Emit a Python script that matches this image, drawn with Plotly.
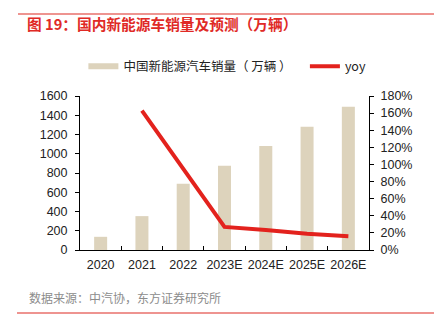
import plotly.graph_objects as go

categories = ["2020", "2021", "2022", "2023E", "2024E", "2025E", "2026E"]
sales = [137, 352, 689, 875, 1080, 1280, 1488]
yoy = [None, 1.63, 0.96, 0.27, 0.235, 0.19, 0.16]

bar_name = "中国新能源汽车销量（ 万辆 ）\u00a0\u00a0\u00a0"
line_name = "yoy"
title_text = "图 19：国内新能源车销量及预测（万辆）"
source_text = "数据来源：中汽协，东方证券研究所"

BEIGE = "#DDD3BC"
RED = "#E3221D"
FONT = "Liberation Sans, Arial, Noto Sans CJK SC"

fig = go.Figure()
fig.add_trace(go.Bar(x=categories, y=sales, name=bar_name, marker_color=BEIGE,
                     marker_line_width=0, showlegend=False, yaxis="y"))
# legend proxy for the bar series (flat wide swatch like the reference)
fig.add_trace(go.Scatter(x=[categories[0]], y=[None], mode="lines", name=bar_name,
                         line=dict(color=BEIGE, width=6), yaxis="y"))
fig.add_trace(go.Scatter(x=categories, y=yoy, mode="lines", name=line_name,
                         line=dict(color=RED, width=4), yaxis="y2"))

L, R, T, B = 80, 65, 96, 78
W, H = 434, 328
pw, ph = W - L - R, H - T - B

def px(x):
    return (x - L) / pw

def py(y):
    return (H - B - y) / ph

fig.update_layout(
    width=W, height=H,
    margin=dict(l=L, r=R, t=T, b=B, pad=0),
    paper_bgcolor="white", plot_bgcolor="white",
    font=dict(family=FONT, size=12.5, color="#222222"),
    bargap=0.685,
    title=dict(text="<b>" + title_text + "</b>", x=27 / W, xanchor="left",
               y=1 - 25 / H, yanchor="middle",
               font=dict(family="Noto Sans CJK SC, Liberation Sans", size=14.7, color="#E02A26")),
    legend=dict(orientation="h", x=0.51, xanchor="center", y=py(66.5), yanchor="middle",
                font=dict(family="Noto Sans CJK SC, Liberation Sans", size=12.5, color="#222222"),
                bgcolor="rgba(0,0,0,0)", traceorder="normal", entrywidth=0),
    xaxis=dict(type="category", showline=True, linecolor="black", linewidth=1,
               ticks="inside", tickson="boundaries", ticklen=4, tickcolor="black",
               tickangle=0, showgrid=False, ticklabelstandoff=3,
               tickfont=dict(size=12.5, color="#222222")),
    yaxis=dict(range=[0, 1600], dtick=200, showline=True, linecolor="black", linewidth=1,
               ticks="outside", ticklen=4, tickcolor="black", showgrid=False,
               zeroline=False, ticklabelstandoff=5, tickfont=dict(size=12.5, color="#222222")),
    yaxis2=dict(range=[0, 1.8], dtick=0.2, tickformat=".0%", overlaying="y", side="right",
                showline=True, linecolor="black", linewidth=1, ticks="outside", ticklen=4,
                tickcolor="black", showgrid=False, zeroline=False, ticklabelstandoff=4,
                tickfont=dict(size=12.5, color="#222222")),
    shapes=[
        dict(type="line", xref="paper", yref="paper", x0=px(18), x1=px(434), y0=py(14), y1=py(14),
             line=dict(color="#E8706B", width=1.5)),
        dict(type="line", xref="paper", yref="paper", x0=px(17), x1=px(434), y0=py(313), y1=py(313),
             line=dict(color="#E8706B", width=1.5)),
    ],
    annotations=[
        dict(text=source_text, xref="paper", yref="paper", x=px(26.5), y=py(297.5),
             xanchor="left", yanchor="middle", showarrow=False,
             font=dict(family="Noto Sans CJK SC, Liberation Sans", size=12, color="#8C8C8C")),
    ],
)

fig.write_html("out.html")
